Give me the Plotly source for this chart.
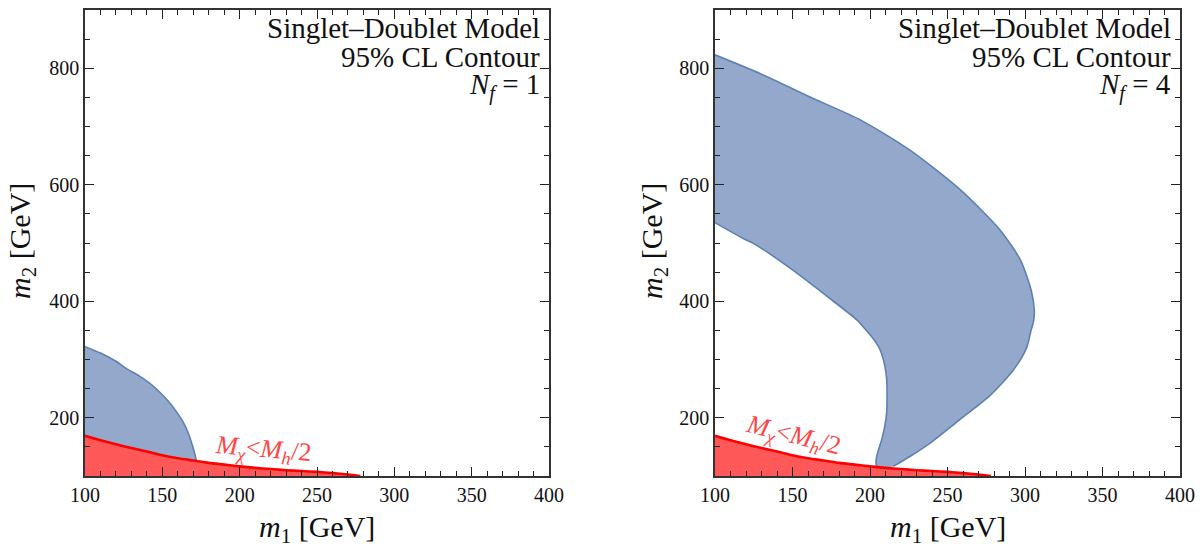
import plotly.graph_objects as go

# ---------------- data ----------------
# Red exclusion boundary: M_chi < M_h/2
red_m1 = [100, 110, 120, 130, 140, 150, 160, 170, 180, 190, 200, 210, 220, 230, 240, 250, 260, 270, 278]
red_m2 = [169, 161.5, 154.5, 148, 142, 135.5, 130.5, 126.5, 122.5, 119.5, 116.5, 114, 112, 110, 108.5, 107, 105, 102.5, 100]

# N_f = 1 contour edge
nf1_m1 = [100, 110, 120, 127, 135, 142, 149, 155, 160, 164, 167, 169.5, 171, 172]
nf1_m2 = [322, 311, 297, 284, 272, 259, 242, 225, 207, 190, 172, 152, 138, 126.5]

# N_f = 4 contour: outer edge
nf4_out_m1 = [100, 129, 161, 194, 226, 258, 284, 297, 304, 306, 305.5, 304, 301, 292.5, 277, 258, 239, 226, 215]
nf4_out_m2 = [823, 791, 751, 711, 659, 592, 522, 471, 419, 385, 365, 351, 320, 282, 237, 197, 157, 134, 116.5]
# N_f = 4 contour: inner edge
nf4_in_m1 = [100, 118, 125, 150, 175, 191.5, 197, 202, 205.5, 207.5, 209.5, 210.8, 211, 210.8, 209.5, 207.5, 205.5, 204.2, 203.9, 204.3]
nf4_in_m2 = [535, 508, 499, 454, 403, 368, 352, 336, 322, 310, 290, 265, 240, 210, 185, 162, 145, 132, 122, 116]

x_ticks = [100, 150, 200, 250, 300, 350, 400]
y_ticks = [200, 400, 600, 800]

# ---------------- styles ----------------
FONT = "Liberation Serif"
BLUE_FILL = "rgb(147,168,203)"
BLUE_EDGE = "rgb(94,129,181)"
RED_FILL = "rgb(255,88,88)"
RED_LINE = "rgb(255,0,0)"
RED_TEXT = "rgb(255,70,70)"
SMOOTH = 0.7

W, H = 1200, 544

fig = go.Figure()

def red_between(lo, hi):
    pts = [(a, b) for a, b in zip(red_m1, red_m2) if lo < a < hi]
    return pts[::-1]

# ---- left panel (N_f = 1) ----
seg = red_between(100 - 1, nf1_m1[-1])
px = nf1_m1 + [p[0] for p in seg]
py = nf1_m2 + [p[1] for p in seg]
fig.add_trace(go.Scatter(x=px, y=py, fill="toself", fillcolor=BLUE_FILL, mode="lines",
                         line=dict(width=0, shape="spline", smoothing=SMOOTH), hoverinfo="skip",
                         showlegend=False, xaxis="x", yaxis="y"))
fig.add_trace(go.Scatter(x=nf1_m1, y=nf1_m2, mode="lines",
                         line=dict(color=BLUE_EDGE, width=1.6, shape="spline", smoothing=SMOOTH),
                         showlegend=False, xaxis="x", yaxis="y"))

# ---- right panel (N_f = 4) ----
seg = red_between(nf4_in_m1[-1], nf4_out_m1[-1])
px = nf4_out_m1 + [p[0] for p in seg] + nf4_in_m1[::-1]
py = nf4_out_m2 + [p[1] for p in seg] + nf4_in_m2[::-1]
fig.add_trace(go.Scatter(x=px, y=py, fill="toself", fillcolor=BLUE_FILL, mode="lines",
                         line=dict(width=0, shape="spline", smoothing=SMOOTH), hoverinfo="skip",
                         showlegend=False, xaxis="x2", yaxis="y2"))
for ex, ey in ((nf4_out_m1, nf4_out_m2), (nf4_in_m1, nf4_in_m2)):
    fig.add_trace(go.Scatter(x=ex, y=ey, mode="lines",
                             line=dict(color=BLUE_EDGE, width=1.6, shape="spline", smoothing=SMOOTH),
                             showlegend=False, xaxis="x2", yaxis="y2"))

# ---- red region on both panels ----
for xa, ya in (("x", "y"), ("x2", "y2")):
    fig.add_trace(go.Scatter(x=red_m1, y=red_m2, mode="lines", fill="tozeroy", fillcolor=RED_FILL,
                             line=dict(color=RED_LINE, width=2.6, shape="spline", smoothing=0.8),
                             showlegend=False, xaxis=xa, yaxis=ya))

# ---------------- axes ----------------
def xax(domain, anchor):
    return dict(domain=domain, anchor=anchor, range=[100, 400], tickvals=x_ticks, automargin=False,
                ticks="inside", ticklen=9, tickwidth=1, tickcolor="#222",
                minor=dict(dtick=10, ticks="inside", ticklen=5, tickwidth=1, tickcolor="#222"),
                showline=True, linecolor="#333", linewidth=1.6, mirror="ticks",
                showgrid=False, zeroline=False,
                tickfont=dict(family=FONT, size=20, color="#111"))

def yax(anchor):
    return dict(domain=[(H - 476) / H, (H - 10) / H], anchor=anchor, range=[100, 900],
                tickvals=y_ticks, automargin=False,
                ticks="inside", ticklen=9, tickwidth=1, tickcolor="#222",
                minor=dict(tick0=0, dtick=50, ticks="inside", ticklen=5, tickwidth=1, tickcolor="#222"),
                showline=True, linecolor="#333", linewidth=1.6, mirror="ticks",
                showgrid=False, zeroline=False,
                tickfont=dict(family=FONT, size=20, color="#111"))

fig.update_layout(
    width=W, height=H,
    margin=dict(l=0, r=0, t=0, b=0, autoexpand=False),
    paper_bgcolor="white", plot_bgcolor="white",
    xaxis=xax([85 / W, 549 / W], "y"),
    yaxis=yax("x"),
    xaxis2=xax([715 / W, 1180 / W], "y2"),
    yaxis2=yax("x2"),
    showlegend=False,
)

# ---------------- text ----------------
ann = []
tfont = dict(family=FONT, size=29, color="#111")
for xr, yr, nf in (("x domain", "y domain", "1"), ("x2 domain", "y2 domain", "4")):
    lines = ["Singlet\u2013Doublet Model", "95% CL Contour", "<i>N</i><sub><i>f</i></sub> = " + nf]
    ys = [0.962, 0.899, 0.836]
    for t, yy in zip(lines, ys):
        ann.append(dict(text=t, xref=xr, yref=yr, x=0.984, y=yy, xanchor="right", yanchor="middle",
                        showarrow=False, font=tfont))

label = "<i>M</i><sub><i>\u03c7</i></sub>&lt;<i>M</i><sub><i>h</i></sub>/2"
ann.append(dict(text=label, xref="x", yref="y", x=215, y=144, textangle=5, showarrow=False,
                font=dict(family=FONT, size=26, color=RED_TEXT)))
ann.append(dict(text=label, xref="x2", yref="y2", x=150, y=168, textangle=14, showarrow=False,
                font=dict(family=FONT, size=26, color=RED_TEXT)))

afont = dict(family=FONT, size=30, color="#111")
for cx in (317, 947.5):
    ann.append(dict(text="<i>m</i><sub>1</sub> [GeV]", xref="paper", yref="paper", x=cx / W,
                    y=(H - 529) / H,
                    xanchor="center", yanchor="middle", showarrow=False, font=afont))
for cx in (22, 654):
    ann.append(dict(text="<i>m</i><sub>2</sub> [GeV]", xref="paper", yref="paper", x=cx / W,
                    y=(H - 241) / H,
                    xanchor="center", yanchor="middle", textangle=-90, showarrow=False, font=afont))

fig.update_layout(annotations=ann)
# remove the default page margin so the 1200x544 figure fills the window exactly
fig.write_html("out.html", config={"displayModeBar": False},
               post_script="document.body.style.margin='0';document.body.style.overflow='hidden';")
